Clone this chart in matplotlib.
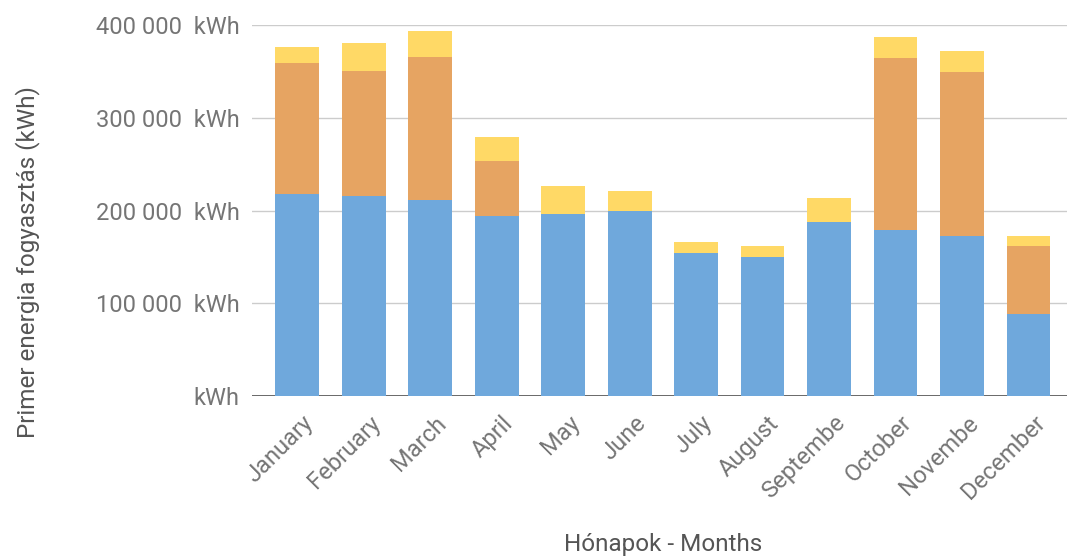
import numpy as np
import matplotlib
matplotlib.use('Agg')
import matplotlib.pyplot as plt
from matplotlib.transforms import ScaledTranslation

months = ['January', 'February', 'March', 'April', 'May', 'June', 'July',
          'August', 'Septembe', 'October', 'Novembe', 'December']
# stacked segments, kWh
blue = [218000, 216000, 211000, 194000, 196000, 200000, 154000, 150000,
        188000, 179000, 173000, 88000]
orange = [141000, 134500, 155000, 59600, 0, 0, 0, 0, 0, 185000, 176000, 73600]
yellow = [17000, 30500, 28000, 25400, 30000, 21000, 12000, 12000, 25500,
          23000, 23000, 10400]
y_ticks = [0, 100000, 200000, 300000, 400000]

plt.rcParams['font.family'] = ['Roboto', 'DejaVu Sans']

fig = plt.figure(figsize=(10.67, 5.59), dpi=100)
ax = fig.add_axes([252 / 1067, 1 - 396 / 559, 1 - 252 / 1067, (396 - 25) / 559])

x = np.arange(len(months))
w = 0.66
blue = np.array(blue)
orange = np.array(orange)
yellow = np.array(yellow)
ax.bar(x, blue, w, color='#6fa8dc', zorder=2)
ax.bar(x, orange, w, bottom=blue, color='#e6a462', zorder=2)
ax.bar(x, yellow, w, bottom=blue + orange, color='#ffd966', zorder=2)

ax.set_xlim(-0.68, 11.58)
ax.set_ylim(0, 400000)
ax.set_yticks(y_ticks)
labels = []
for v in y_ticks:
    if v == 0:
        labels.append('kWh')
    else:
        labels.append('{:,}'.format(v).replace(',', ' ') + '  kWh')
ax.set_yticklabels(labels)
ax.grid(axis='y', color='#cccccc', linewidth=1, zorder=0)
ax.axhline(0, color='#333333', linewidth=1.2, zorder=1)
for s in ax.spines.values():
    s.set_visible(False)
ax.tick_params(axis='both', length=0, colors='#757575', labelsize=17)
ax.tick_params(axis='y', pad=9)

ax.set_xticks(x)
ax.set_xticklabels(months, rotation=45, ha='right', va='center', rotation_mode='anchor')
ax.tick_params(axis='x', pad=17)
shift = ScaledTranslation(13 / 100, 0, fig.dpi_scale_trans)
for lab in ax.get_xticklabels():
    lab.set_transform(lab.get_transform() + shift)

fig.text(663 / 1067, 1 - 545 / 559, 'Hónapok - Months', ha='center', va='center',
         color='#555555', fontsize=17.5)
fig.text(28 / 1067, 1 - 262 / 559, 'Primer energia fogyasztás (kWh)', rotation=90,
         ha='center', va='center', color='#555555', fontsize=17.5)

fig.savefig('out.png', dpi=100)
